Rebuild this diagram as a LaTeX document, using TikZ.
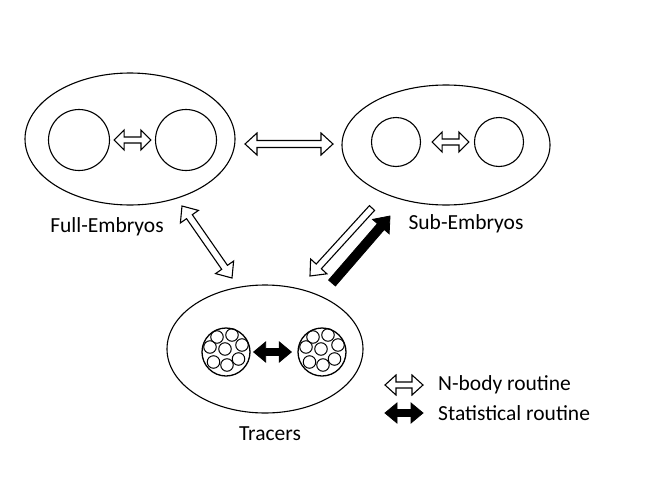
\documentclass[tikz,border=0pt]{standalone}
\usepackage{fontspec}
\setmainfont{Carlito}
\usetikzlibrary{shapes.geometric,calc}

\tikzset{
  blob/.style={draw,ellipse,line width=1.1pt,inner sep=0pt},
  body/.style={draw,circle,line width=1.1pt,inner sep=0pt},
  tracer/.style={draw,circle,line width=1pt,inner sep=0pt,minimum size=12.5pt},
  hollow/.style={draw,fill=white,line width=1.1pt,line join=miter},
  filled/.style={draw,fill=black,line width=0.8pt,line join=miter},
  lbl/.style={font=\fontsize{21.5}{26}\selectfont,inner sep=0pt}
}

% block arrow with two heads: [style]{from}{to}{half shaft}{half head}{head length}
\newcommand{\dblarrow}[6][hollow]{%
  \path[#1] (#2)
    -- ($(#2)!#6!(#3)!#5!90:(#3)$)
    -- ($(#2)!#6!(#3)!#4!90:(#3)$)
    -- ($(#3)!#6!(#2)!#4!-90:(#2)$)
    -- ($(#3)!#6!(#2)!#5!-90:(#2)$)
    -- (#3)
    -- ($(#3)!#6!(#2)!#5!90:(#2)$)
    -- ($(#3)!#6!(#2)!#4!90:(#2)$)
    -- ($(#2)!#6!(#3)!#4!-90:(#3)$)
    -- ($(#2)!#6!(#3)!#5!-90:(#3)$)
    -- cycle;}

% block arrow with one head
\newcommand{\onearrow}[6][hollow]{%
  \path[#1] ($(#2)!#4!90:(#3)$)
    -- ($(#3)!#6!(#2)!#4!-90:(#2)$)
    -- ($(#3)!#6!(#2)!#5!-90:(#2)$)
    -- (#3)
    -- ($(#3)!#6!(#2)!#5!90:(#2)$)
    -- ($(#3)!#6!(#2)!#4!90:(#2)$)
    -- ($(#2)!#4!-90:(#3)$)
    -- cycle;}

\begin{document}
\begin{tikzpicture}[x=1pt,y=-1pt]
  \useasboundingbox (0,0) rectangle (664,498);

  % Ellipses
  \node[blob,minimum width=210pt,minimum height=132pt] (full) at (130,139) {};
  \node[blob,minimum width=208pt,minimum height=120pt] (sub) at (446,145) {};
  \node[blob,minimum width=196pt,minimum height=128pt] (trac) at (265,349) {};

  % Bodies inside
  \node[body,minimum size=61pt] (fl) at (79,140) {};
  \node[body,minimum size=61pt] (fr) at (186,140) {};
  \node[body,minimum size=49pt] (sl) at (396,142) {};
  \node[body,minimum size=49pt] (sr) at (499,142) {};
  \node[body,minimum size=48pt,line width=1.3pt] (tl) at (226,352) {};
  \node[body,minimum size=48pt,line width=1.3pt] (tr) at (322,352) {};

  % Tracer particles
  \foreach \c in {tl,tr}
    \foreach \dx/\dy [count=\i] in {-9/-15,6/-17,-16/-5,-1/-3,16/-7,-12.5/10,1/13,12.5/7}
      \node[tracer] (\c-\i) at ($(\c)+(\dx,\dy)$) {};

  % Labels
  \node[lbl,anchor=base] (fulllbl) at (107,232) {Full-Embryos};
  \node[lbl,anchor=base] (sublbl) at (466,229) {Sub-Embryos};
  \node[lbl,anchor=base] (traclbl) at (270,440) {Tracers};

  % Routines inside the ellipses
  \dblarrow{$(fl.east)+(4,0)$}{$(fr.west)+(-4,0)$}{3pt}{10pt}{10pt}
  \dblarrow{$(sl.east)+(11,0)$}{$(sr.west)+(-5,0)$}{3pt}{10pt}{10pt}
  \dblarrow[filled]{$(tl.east)+(3,0)$}{$(tr.west)+(-6,0)$}{3.5pt}{10pt}{12pt}

  % Routines between the ellipses
  \coordinate (fs-a) at (245,144);
  \coordinate (fs-b) at (333,144);
  \coordinate (ft-a) at (182,206);
  \coordinate (ft-b) at (232,278);
  \coordinate (st-a) at (372,208);
  \coordinate (st-b) at (310,276);
  \coordinate (ts-a) at (332,283);
  \coordinate (ts-b) at (390,216);
  \dblarrow{fs-a}{fs-b}{3.5pt}{11pt}{12pt}
  \dblarrow{ft-a}{ft-b}{3.5pt}{11pt}{13pt}
  \onearrow{st-a}{st-b}{3.5pt}{11pt}{13pt}
  \onearrow[filled]{ts-a}{ts-b}{4.5pt}{11pt}{14pt}

  % Legend
  \coordinate (lg1-a) at (385,385);
  \coordinate (lg1-b) at (423,385);
  \coordinate (lg2-a) at (385,413);
  \coordinate (lg2-b) at (423,413);
  \dblarrow{lg1-a}{lg1-b}{3pt}{10pt}{11pt}
  \dblarrow[filled]{lg2-a}{lg2-b}{3.5pt}{10pt}{12pt}
  \node[lbl,anchor=base west] (lg1) at (438,390) {N-body routine};
  \node[lbl,anchor=base west] (lg2) at (438,420) {Statistical routine};
\end{tikzpicture}
\end{document}
